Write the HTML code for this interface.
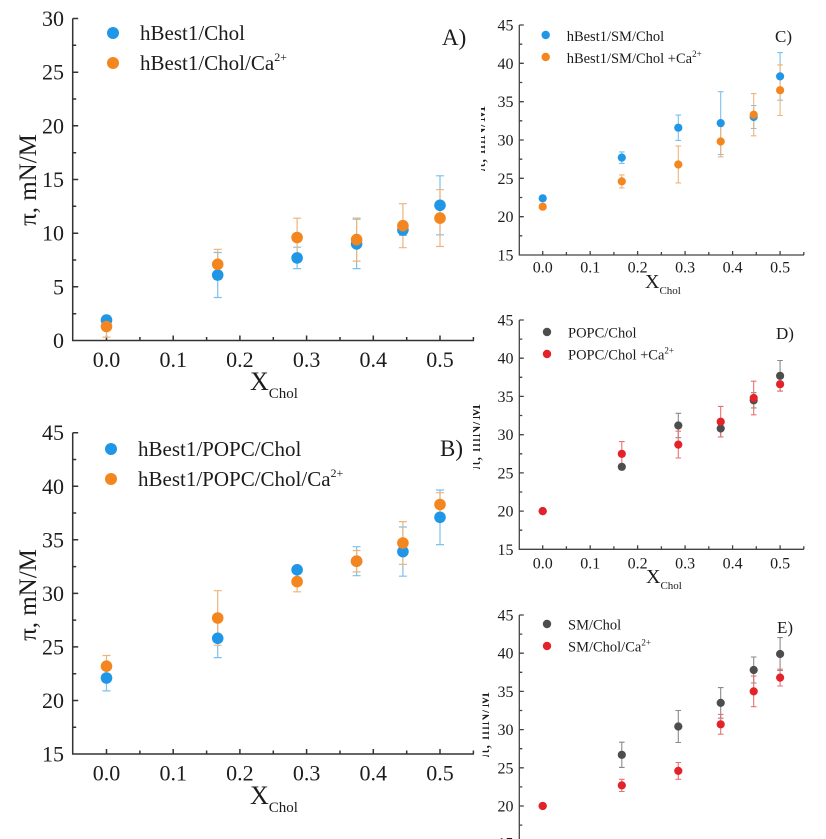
<!DOCTYPE html>
<html><head><meta charset="utf-8"><style>
html,body{margin:0;padding:0;background:#fff;}
svg{display:block;}
text{font-family:"Liberation Serif","DejaVu Serif",serif;fill:#1c1c1c;}
</style></head><body>
<svg width="826" height="839" viewBox="0 0 826 839" xmlns="http://www.w3.org/2000/svg">
<defs>
<clipPath id="cC"><rect x="481" y="0" width="100" height="300"/></clipPath>
<clipPath id="cD"><rect x="473" y="300" width="100" height="300"/></clipPath>
<clipPath id="cE"><rect x="482.5" y="590" width="100" height="249"/></clipPath>
</defs>

<!-- ================= PANEL A ================= -->
<g stroke="#333" stroke-width="1.5" fill="none">
<path d="M72.7 18.5V340.5H474"/>
<path d="M72.7 18.5h5.5M72.7 72.2h5.5M72.7 125.8h5.5M72.7 179.5h5.5M72.7 233.2h5.5M72.7 286.8h5.5"/>
<path d="M72.7 45.3h3.5M72.7 99h3.5M72.7 152.7h3.5M72.7 206.3h3.5M72.7 260h3.5M72.7 313.7h3.5"/>
<path d="M106.5 340.5v-5M173.2 340.5v-5M239.9 340.5v-5M306.6 340.5v-5M373.3 340.5v-5M440 340.5v-5"/>
<path d="M139.9 340.5v-3.5M206.6 340.5v-3.5M273.3 340.5v-3.5M340 340.5v-3.5M406.7 340.5v-3.5M473.4 340.5v-3.5"/>
</g>
<g font-size="22" text-anchor="end">
<text x="64" y="26">30</text><text x="64" y="79.7">25</text><text x="64" y="133.3">20</text>
<text x="64" y="187">15</text><text x="64" y="240.7">10</text><text x="64" y="294.3">5</text><text x="64" y="348">0</text>
</g>
<g font-size="22" text-anchor="middle">
<text x="106.5" y="367">0.0</text><text x="173.2" y="367">0.1</text><text x="239.9" y="367">0.2</text>
<text x="306.6" y="367">0.3</text><text x="373.3" y="367">0.4</text><text x="440" y="367">0.5</text>
</g>
<text x="250" y="390" font-size="26">X<tspan font-size="15" dy="8">Chol</tspan></text>
<text transform="translate(36,180) rotate(-90)" text-anchor="middle" font-size="25">π, mN/M</text>
<!-- error bars A -->
<g stroke="#7cc0ec" stroke-width="1.2" fill="none">
<path d="M106.5 315.8V324.4M102.5 315.8h8M102.5 324.4h8"/>
<path d="M217.7 252.5V297.5M213.7 252.5h8M213.7 297.5h8"/>
<path d="M297.1 247.2V268.6M293.1 247.2h8M293.1 268.6h8"/>
<path d="M356.6 219.2V268.6M352.6 219.2h8M352.6 268.6h8"/>
<path d="M402.9 224.6V235.4M398.9 224.6h8M398.9 235.4h8"/>
<path d="M440 175.8V234.8M436 175.8h8M436 234.8h8"/>
</g>
<g stroke="#eeb47c" stroke-width="1.2" fill="none">
<path d="M106.5 315.8V337.2M102.5 337.2h8"/>
<path d="M217.7 249.3V279.3M213.7 249.3h8M213.7 279.3h8"/>
<path d="M297.1 218.2V256.8M293.1 218.2h8M293.1 256.8h8"/>
<path d="M356.6 218.1V261.1M352.6 218.1h8M352.6 261.1h8"/>
<path d="M402.9 203.7V247.7M398.9 203.7h8M398.9 247.7h8"/>
<path d="M440 189.7V246.5M436 189.7h8M436 246.5h8"/>
</g>
<g fill="#1f97e6">
<circle cx="106.5" cy="320.1" r="5.8"/><circle cx="217.7" cy="275" r="5.8"/><circle cx="297.1" cy="257.9" r="5.8"/>
<circle cx="356.6" cy="243.9" r="5.8"/><circle cx="402.9" cy="230" r="5.8"/><circle cx="440" cy="205.3" r="5.8"/>
</g>
<g fill="#f4861f">
<circle cx="106.5" cy="326.5" r="5.8"/><circle cx="217.7" cy="264.3" r="5.8"/><circle cx="297.1" cy="237.5" r="5.8"/>
<circle cx="356.6" cy="239.6" r="5.8"/><circle cx="402.9" cy="225.7" r="5.8"/><circle cx="440" cy="218.1" r="5.8"/>
</g>
<circle cx="113" cy="33" r="6" fill="#1f97e6"/>
<circle cx="113" cy="63" r="6" fill="#f4861f"/>
<text x="140" y="40" font-size="21">hBest1/Chol</text>
<text x="140" y="70" font-size="21">hBest1/Chol/Ca<tspan font-size="12" dy="-9">2+</tspan></text>
<text x="442" y="45" font-size="23">A)</text>

<!-- ================= PANEL B ================= -->
<g stroke="#333" stroke-width="1.5" fill="none">
<path d="M72.7 432.7V754H474"/>
<path d="M72.7 432.7h5.5M72.7 486.3h5.5M72.7 539.8h5.5M72.7 593.4h5.5M72.7 646.9h5.5M72.7 700.5h5.5"/>
<path d="M72.7 459.5h3.5M72.7 513h3.5M72.7 566.6h3.5M72.7 620.1h3.5M72.7 673.7h3.5M72.7 727.2h3.5"/>
<path d="M106.5 754v-5M173.2 754v-5M239.9 754v-5M306.6 754v-5M373.3 754v-5M440 754v-5"/>
<path d="M139.9 754v-3.5M206.6 754v-3.5M273.3 754v-3.5M340 754v-3.5M406.7 754v-3.5M473.4 754v-3.5"/>
</g>
<g font-size="22" text-anchor="end">
<text x="64" y="440.2">45</text><text x="64" y="493.8">40</text><text x="64" y="547.3">35</text>
<text x="64" y="600.9">30</text><text x="64" y="654.4">25</text><text x="64" y="708">20</text><text x="64" y="761.5">15</text>
</g>
<g font-size="22" text-anchor="middle">
<text x="106.5" y="780.5">0.0</text><text x="173.2" y="780.5">0.1</text><text x="239.9" y="780.5">0.2</text>
<text x="306.6" y="780.5">0.3</text><text x="373.3" y="780.5">0.4</text><text x="440" y="780.5">0.5</text>
</g>
<text x="250" y="804" font-size="26">X<tspan font-size="15" dy="8">Chol</tspan></text>
<text transform="translate(36,595) rotate(-90)" text-anchor="middle" font-size="25">π, mN/M</text>
<g stroke="#7cc0ec" stroke-width="1.2" fill="none">
<path d="M106.5 665.1V690.9M102.5 665.1h8M102.5 690.9h8"/>
<path d="M217.7 619V657.6M213.7 619h8M213.7 657.6h8"/>
<path d="M297.1 566.6V573M293.1 566.6h8M293.1 573h8"/>
<path d="M356.6 546.7V575.7M352.6 546.7h8M352.6 575.7h8"/>
<path d="M402.9 527V576.2M398.9 527h8M398.9 576.2h8"/>
<path d="M440 490V544.6M436 490h8M436 544.6h8"/>
</g>
<g stroke="#eeb47c" stroke-width="1.2" fill="none">
<path d="M106.5 655.5V676.9M102.5 655.5h8M102.5 676.9h8"/>
<path d="M217.7 590.7V645.3M213.7 590.7h8M213.7 645.3h8"/>
<path d="M297.1 571.4V591.8M293.1 571.4h8M293.1 591.8h8"/>
<path d="M356.6 550.5V571.9M352.6 550.5h8M352.6 571.9h8"/>
<path d="M402.9 521.6V564.4M398.9 521.6h8M398.9 564.4h8"/>
<path d="M440 492.7V516.3M436 492.7h8M436 516.3h8"/>
</g>
<g fill="#1f97e6">
<circle cx="106.5" cy="678" r="5.8"/><circle cx="217.7" cy="638.3" r="5.8"/><circle cx="297.1" cy="569.8" r="5.8"/>
<circle cx="356.6" cy="561.2" r="5.8"/><circle cx="402.9" cy="551.6" r="5.8"/><circle cx="440" cy="517.3" r="5.8"/>
</g>
<g fill="#f4861f">
<circle cx="106.5" cy="666.2" r="5.8"/><circle cx="217.7" cy="618" r="5.8"/><circle cx="297.1" cy="581.6" r="5.8"/>
<circle cx="356.6" cy="561.2" r="5.8"/><circle cx="402.9" cy="543" r="5.8"/><circle cx="440" cy="504.5" r="5.8"/>
</g>
<circle cx="111" cy="449" r="6" fill="#1f97e6"/>
<circle cx="111" cy="479" r="6" fill="#f4861f"/>
<text x="138" y="456" font-size="21">hBest1/POPC/Chol</text>
<text x="138" y="486" font-size="21">hBest1/POPC/Chol/Ca<tspan font-size="12" dy="-9">2+</tspan></text>
<text x="440" y="456" font-size="23">B)</text>

<!-- ================= PANEL C ================= -->
<g stroke="#444" stroke-width="1.3" fill="none">
<path d="M519.3 25V255H804"/>
<path d="M519.3 25h4.5M519.3 63.3h4.5M519.3 101.7h4.5M519.3 140h4.5M519.3 178.3h4.5M519.3 216.7h4.5"/>
<path d="M519.3 44.2h3M519.3 82.5h3M519.3 120.8h3M519.3 159.2h3M519.3 197.5h3M519.3 235.8h3"/>
<path d="M542.7 255v-4M590.2 255v-4M637.6 255v-4M685.1 255v-4M732.6 255v-4M780.1 255v-4"/>
<path d="M566.4 255v-3M613.9 255v-3M661.4 255v-3M708.8 255v-3M756.3 255v-3M803.8 255v-3"/>
</g>
<g font-size="16" text-anchor="end">
<text x="513.5" y="30.5">45</text><text x="513.5" y="68.8">40</text><text x="513.5" y="107.2">35</text>
<text x="513.5" y="145.5">30</text><text x="513.5" y="183.8">25</text><text x="513.5" y="222.2">20</text><text x="513.5" y="260.5">15</text>
</g>
<g font-size="16" text-anchor="middle">
<text x="542.7" y="272.5">0.0</text><text x="590.2" y="272.5">0.1</text><text x="637.6" y="272.5">0.2</text>
<text x="685.1" y="272.5">0.3</text><text x="732.6" y="272.5">0.4</text><text x="780.1" y="272.5">0.5</text>
</g>
<text x="645" y="288" font-size="20">X<tspan font-size="11" dy="6">Chol</tspan></text>
<g clip-path="url(#cC)"><text transform="translate(485,139) rotate(-90)" text-anchor="middle" font-size="18" fill="#333">π, mN/M</text></g>
<g stroke="#7cc0ec" stroke-width="1.1" fill="none">
<path d="M542.7 196V200.6"/>
<path d="M621.8 151.9V163.4M619 151.9h5.6M619 163.4h5.6"/>
<path d="M678.3 115.1V140.4M675.5 115.1h5.6M675.5 140.4h5.6"/>
<path d="M720.7 91.7V154.5M717.9 91.7h5.6M717.9 154.5h5.6"/>
<path d="M753.7 105.5V128.5M750.9 105.5h5.6M750.9 128.5h5.6"/>
<path d="M780.1 52.6V100.2M777.3 52.6h5.6M777.3 100.2h5.6"/>
</g>
<g stroke="#eeb47c" stroke-width="1.1" fill="none">
<path d="M542.7 204.4V209"/>
<path d="M621.8 174.9V187.9M619 174.9h5.6M619 187.9h5.6"/>
<path d="M678.3 146.1V182.9M675.5 146.1h5.6M675.5 182.9h5.6"/>
<path d="M720.7 126.2V156.8M717.9 126.2h5.6M717.9 156.8h5.6"/>
<path d="M753.7 93.6V135.8M750.9 93.6h5.6M750.9 135.8h5.6"/>
<path d="M780.1 64.9V115.5M777.3 64.9h5.6M777.3 115.5h5.6"/>
</g>
<g fill="#1f97e6">
<circle cx="542.7" cy="198.3" r="4.1"/><circle cx="621.8" cy="157.6" r="4.1"/><circle cx="678.3" cy="127.7" r="4.1"/>
<circle cx="720.7" cy="123.1" r="4.1"/><circle cx="753.7" cy="117" r="4.1"/><circle cx="780.1" cy="76.4" r="4.1"/>
</g>
<g fill="#f4861f">
<circle cx="542.7" cy="206.7" r="4.1"/><circle cx="621.8" cy="181.4" r="4.1"/><circle cx="678.3" cy="164.5" r="4.1"/>
<circle cx="720.7" cy="141.5" r="4.1"/><circle cx="753.7" cy="114.7" r="4.1"/><circle cx="780.1" cy="90.2" r="4.1"/>
</g>
<circle cx="545.7" cy="35" r="4.2" fill="#1f97e6"/>
<circle cx="545.7" cy="57" r="4.2" fill="#f4861f"/>
<text x="566.7" y="41" font-size="14.5">hBest1/SM/Chol</text>
<text x="566.7" y="63" font-size="14.5">hBest1/SM/Chol +Ca<tspan font-size="9" dy="-6">2+</tspan></text>
<text x="775" y="42" font-size="17">C)</text>

<!-- ================= PANEL D ================= -->
<g stroke="#444" stroke-width="1.3" fill="none">
<path d="M519.3 320V549.3H804"/>
<path d="M519.3 320h4.5M519.3 358.2h4.5M519.3 396.4h4.5M519.3 434.7h4.5M519.3 472.9h4.5M519.3 511.1h4.5"/>
<path d="M519.3 339.1h3M519.3 377.3h3M519.3 415.5h3M519.3 453.8h3M519.3 492h3M519.3 530.2h3"/>
<path d="M542.7 549.3v-4M590.2 549.3v-4M637.6 549.3v-4M685.1 549.3v-4M732.6 549.3v-4M780.1 549.3v-4"/>
<path d="M566.4 549.3v-3M613.9 549.3v-3M661.4 549.3v-3M708.8 549.3v-3M756.3 549.3v-3M803.8 549.3v-3"/>
</g>
<g font-size="16" text-anchor="end">
<text x="513.5" y="325.5">45</text><text x="513.5" y="363.7">40</text><text x="513.5" y="401.9">35</text>
<text x="513.5" y="440.2">30</text><text x="513.5" y="478.4">25</text><text x="513.5" y="516.6">20</text><text x="513.5" y="554.8">15</text>
</g>
<g font-size="16" text-anchor="middle">
<text x="542.7" y="568.5">0.0</text><text x="590.2" y="568.5">0.1</text><text x="637.6" y="568.5">0.2</text>
<text x="685.1" y="568.5">0.3</text><text x="732.6" y="568.5">0.4</text><text x="780.1" y="568.5">0.5</text>
</g>
<text x="646" y="583" font-size="20">X<tspan font-size="11" dy="6">Chol</tspan></text>
<g clip-path="url(#cD)"><text transform="translate(480,437) rotate(-90)" text-anchor="middle" font-size="18">π, mN/M</text></g>
<g stroke="#8a8a8a" stroke-width="1.1" fill="none">
<path d="M621.8 464.5V469.1"/>
<path d="M678.3 413.3V437.7M675.5 413.3h5.6M675.5 437.7h5.6"/>
<path d="M720.7 420.1V436.9M717.9 420.1h5.6M717.9 436.9h5.6"/>
<path d="M753.7 392.7V407.9M750.9 392.7h5.6M750.9 407.9h5.6"/>
<path d="M780.1 360.5V391.1M777.3 360.5h5.6M777.3 391.1h5.6"/>
</g>
<g stroke="#e77272" stroke-width="1.1" fill="none">
<path d="M542.7 508V514.2"/>
<path d="M621.8 441.6V466M619 441.6h5.6M619 466h5.6"/>
<path d="M678.3 431.2V458M675.5 431.2h5.6M675.5 458h5.6"/>
<path d="M720.7 406.4V437M717.9 406.4h5.6M717.9 437h5.6"/>
<path d="M753.7 381.2V414.8M750.9 381.2h5.6M750.9 414.8h5.6"/>
<path d="M780.1 377.3V391.1M777.3 377.3h5.6M777.3 391.1h5.6"/>
</g>
<g fill="#4d4d4d">
<circle cx="542.7" cy="511.1" r="4.1"/><circle cx="621.8" cy="466.8" r="4.1"/><circle cx="678.3" cy="425.5" r="4.1"/>
<circle cx="720.7" cy="428.5" r="4.1"/><circle cx="753.7" cy="400.3" r="4.1"/><circle cx="780.1" cy="375.8" r="4.1"/>
</g>
<g fill="#e3222a">
<circle cx="542.7" cy="511.1" r="4.1"/><circle cx="621.8" cy="453.8" r="4.1"/><circle cx="678.3" cy="444.6" r="4.1"/>
<circle cx="720.7" cy="421.7" r="4.1"/><circle cx="753.7" cy="398" r="4.1"/><circle cx="780.1" cy="384.2" r="4.1"/>
</g>
<circle cx="547" cy="332" r="4.2" fill="#4d4d4d"/>
<circle cx="547" cy="354" r="4.2" fill="#e3222a"/>
<text x="568" y="337.5" font-size="14.5">POPC/Chol</text>
<text x="568" y="359.5" font-size="14.5">POPC/Chol +Ca<tspan font-size="9" dy="-6">2+</tspan></text>
<text x="776" y="339" font-size="17">D)</text>

<!-- ================= PANEL E ================= -->
<g stroke="#444" stroke-width="1.3" fill="none">
<path d="M519.3 615V839"/>
<path d="M519.3 615h4.5M519.3 653.2h4.5M519.3 691.4h4.5M519.3 729.6h4.5M519.3 767.8h4.5M519.3 806h4.5"/>
<path d="M519.3 634.1h3M519.3 672.3h3M519.3 710.5h3M519.3 748.7h3M519.3 786.9h3M519.3 825.1h3"/>
</g>
<g font-size="16" text-anchor="end">
<text x="513.5" y="620.5">45</text><text x="513.5" y="658.7">40</text><text x="513.5" y="696.9">35</text>
<text x="513.5" y="735.1">30</text><text x="513.5" y="773.3">25</text><text x="513.5" y="811.5">20</text><text x="513.5" y="848.5">15</text>
</g>
<g clip-path="url(#cE)"><text transform="translate(489,725) rotate(-90)" text-anchor="middle" font-size="18">π, mN/M</text></g>
<g stroke="#8a8a8a" stroke-width="1.1" fill="none">
<path d="M621.8 742.2V767.4M619 742.2h5.6M619 767.4h5.6"/>
<path d="M678.3 710.5V742.5M675.5 710.5h5.6M675.5 742.5h5.6"/>
<path d="M720.7 687.6V718.2M717.9 687.6h5.6M717.9 718.2h5.6"/>
<path d="M753.7 657V683M750.9 657h5.6M750.9 683h5.6"/>
<path d="M780.1 637.6V670.4M777.3 637.6h5.6M777.3 670.4h5.6"/>
</g>
<g stroke="#e77272" stroke-width="1.1" fill="none">
<path d="M542.7 803.7V808.3"/>
<path d="M621.8 779.3V791.5M619 779.3h5.6M619 791.5h5.6"/>
<path d="M678.3 762.5V779.3M675.5 762.5h5.6M675.5 779.3h5.6"/>
<path d="M720.7 714.4V734.2M717.9 714.4h5.6M717.9 734.2h5.6"/>
<path d="M753.7 676.1V706.7M750.9 676.1h5.6M750.9 706.7h5.6"/>
<path d="M780.1 669.2V686M777.3 669.2h5.6M777.3 686h5.6"/>
</g>
<g fill="#4d4d4d">
<circle cx="542.7" cy="806" r="4.1"/><circle cx="621.8" cy="754.8" r="4.1"/><circle cx="678.3" cy="726.5" r="4.1"/>
<circle cx="720.7" cy="702.9" r="4.1"/><circle cx="753.7" cy="670" r="4.1"/><circle cx="780.1" cy="654" r="4.1"/>
</g>
<g fill="#e3222a">
<circle cx="542.7" cy="806" r="4.1"/><circle cx="621.8" cy="785.4" r="4.1"/><circle cx="678.3" cy="770.9" r="4.1"/>
<circle cx="720.7" cy="724.3" r="4.1"/><circle cx="753.7" cy="691.4" r="4.1"/><circle cx="780.1" cy="677.6" r="4.1"/>
</g>
<circle cx="547" cy="624" r="4.2" fill="#4d4d4d"/>
<circle cx="547" cy="646" r="4.2" fill="#e3222a"/>
<text x="568" y="629.5" font-size="14.5">SM/Chol</text>
<text x="568" y="651.5" font-size="14.5">SM/Chol/Ca<tspan font-size="9" dy="-6">2+</tspan></text>
<text x="777" y="633" font-size="17">E)</text>
</svg>
</body></html>
